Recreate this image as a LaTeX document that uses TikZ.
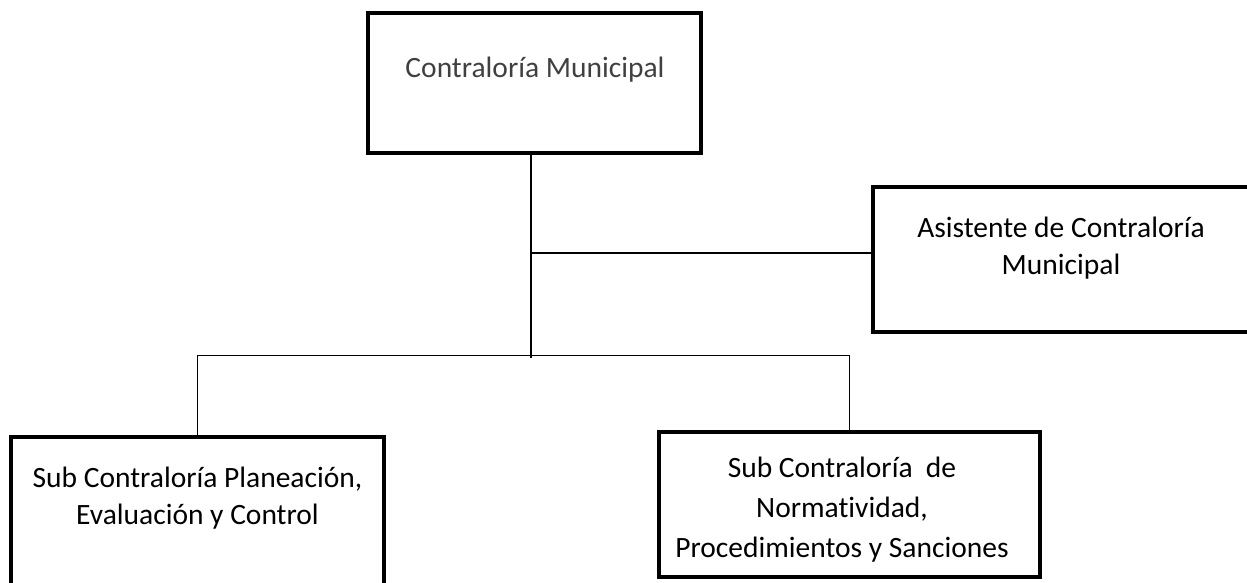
\documentclass[tikz,border=0pt]{standalone}
\usepackage{fontspec}
\setmainfont{Carlito}[Ligatures=NoCommon]
\begin{document}
\begin{tikzpicture}[x=1pt,y=-1pt,
  orgbox/.style={draw=black, line width=3.2pt, minimum width=#1, inner sep=0pt},
  conn/.style={draw=black, line width=1.8pt},
  lbl/.style={inner sep=0pt, align=center, font=\fontsize{29.5}{37}\selectfont},
  lblwide/.style={inner sep=0pt, align=center, font=\fontsize{29.5}{40}\selectfont}]
\useasboundingbox (0,0) rectangle (1247,582);
\clip (0,0) rectangle (1247,582);
% boxes
\node[orgbox=333pt, minimum height=140pt] (top) at (534.5,83) {};
\node[orgbox=402pt, minimum height=145pt] (asst) at (1074,259.5) {};
\node[orgbox=373pt, minimum height=173pt] (lb) at (197.5,523.5) {};
\node[orgbox=381pt, minimum height=145pt] (rb) at (849.5,504.5) {};
% texts
\node[lbl, anchor=base, text=black!75] (ttop) at (535,77) {Contraloría Municipal};
\node[lbl] (tasst) at (1061,248) {Asistente de Contraloría\\Municipal};
\node[lbl] (tlb) at (197.5,498) {Sub Contraloría Planeación,\\Evaluación y Control};
\node[lblwide] (trb) at (842,510) {Sub Contraloría~ de\\Normat\kern0pt ividad,\\Procedimientos y Sanciones};
% connectors
\coordinate (j1) at (531,253);
\coordinate (j2) at (531,358);
\draw[conn] (top.south -| j1) -- (j2);
\draw[conn] (j1) -- (j1 -| asst.west);
\draw[conn] (lb.north) -- ++(0,-80) -| (rb.north);
\end{tikzpicture}
\end{document}
